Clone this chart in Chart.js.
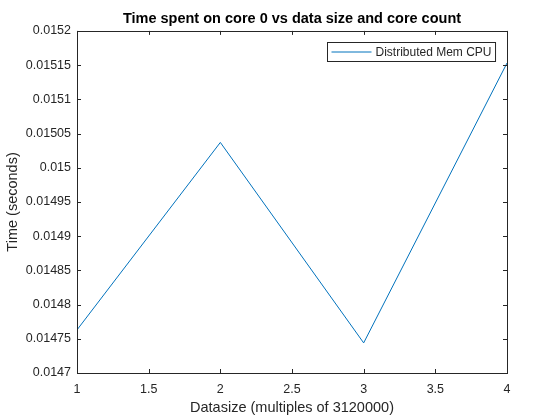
<!DOCTYPE html>
<html>
<head>
<meta charset="utf-8">
<script src="https://cdn.jsdelivr.net/npm/chart.js@4.4.0/dist/chart.umd.min.js"></script>
<style>
  body { margin: 0; background: #fff; }
  #wrap { width: 560px; height: 420px; }
</style>
</head>
<body>
<div id="wrap"><canvas id="coreChart" width="560" height="420"></canvas></div>
<script>
// values
const dataSizes = [1, 2, 3, 4];
const coreTimes = [0.014763, 0.015037, 0.014744, 0.015153];
const seriesLabel = 'Distributed Mem CPU';

const axisColor = '#262626';
const lineColor = '#0072BD';
const fontFamily = 'Arial, "Liberation Sans", Helvetica, sans-serif';

function fmt(v) {
    return Number(v.toFixed(6)).toString();
}

// MATLAB style box with inward ticks, plus a boxed legend
const matlabBox = {
    id: 'matlabBox',
    afterLayout(chart) {
        // centre the title over the plot area, not the canvas
        chart.titleBlock.left = chart.chartArea.left;
        chart.titleBlock.right = chart.chartArea.right;
    },
    afterDraw(chart) {
        const { ctx, chartArea: a } = chart;
        const xs = chart.scales.x, ys = chart.scales.y;
        const len = 4;
        ctx.save();
        ctx.strokeStyle = axisColor;
        ctx.lineWidth = 1;
        ctx.beginPath();
        xs.ticks.forEach(t => {
            const px = Math.round(xs.getPixelForValue(t.value)) + 0.5;
            ctx.moveTo(px, a.bottom); ctx.lineTo(px, a.bottom - len);
            ctx.moveTo(px, a.top); ctx.lineTo(px, a.top + len);
        });
        ys.ticks.forEach(t => {
            const py = Math.round(ys.getPixelForValue(t.value)) + 0.5;
            ctx.moveTo(a.left, py); ctx.lineTo(a.left + len, py);
            ctx.moveTo(a.right, py); ctx.lineTo(a.right - len, py);
        });
        ctx.stroke();
        ctx.strokeRect(Math.round(a.left) + 0.5, Math.round(a.top) + 0.5,
            Math.round(a.right - a.left), Math.round(a.bottom - a.top));

        // legend
        const ds = chart.data.datasets[0];
        ctx.font = '12px ' + fontFamily;
        const tw = ctx.measureText(ds.label).width;
        const boxW = tw + 52, boxH = 19;
        const bx = Math.round(a.right - 12 - boxW) + 0.5;
        const by = Math.round(a.top + 11) + 0.5;
        ctx.fillStyle = '#fff';
        ctx.fillRect(bx, by, boxW, boxH);
        ctx.strokeStyle = axisColor;
        ctx.strokeRect(bx, by, boxW, boxH);
        ctx.strokeStyle = ds.borderColor;
        ctx.beginPath();
        ctx.moveTo(bx + 4, by + boxH / 2);
        ctx.lineTo(bx + 44, by + boxH / 2);
        ctx.stroke();
        ctx.fillStyle = axisColor;
        ctx.textBaseline = 'middle';
        ctx.textAlign = 'left';
        ctx.fillText(ds.label, bx + 48, by + boxH / 2 + 0.5);
        ctx.restore();
    }
};

new Chart(document.getElementById('coreChart'), {
    type: 'line',
    data: {
        datasets: [{
            label: seriesLabel,
            data: dataSizes.map((x, i) => ({ x: x, y: coreTimes[i] })),
            borderColor: lineColor,
            borderWidth: 1,
            pointRadius: 0,
            tension: 0,
            fill: false
        }]
    },
    options: {
        responsive: false,
        animation: false,
        devicePixelRatio: 1,
        layout: { padding: { left: 0, right: 53, top: 0, bottom: 0 } },
        plugins: {
            legend: { display: false },
            tooltip: { enabled: false },
            title: {
                display: true,
                text: 'Time spent on core 0 vs data size and core count',
                color: '#000',
                font: { family: fontFamily, size: 14.5, weight: 'bold' },
                padding: { top: 10.5, bottom: 3 }
            }
        },
        scales: {
            x: {
                type: 'linear',
                min: 1,
                max: 4,
                afterFit: s => { s.height = 47; },
                grid: { display: false, drawTicks: false },
                border: { display: false },
                ticks: {
                    stepSize: 0.5,
                    color: axisColor,
                    padding: 9,
                    maxRotation: 0,
                    font: { family: fontFamily, size: 12.5 },
                    callback: v => fmt(v)
                },
                title: {
                    display: true,
                    text: 'Datasize (multiples of 3120000)',
                    color: axisColor,
                    font: { family: fontFamily, size: 14.5 },
                    padding: { top: 0, bottom: 3.3 }
                }
            },
            y: {
                type: 'linear',
                min: 0.0147,
                max: 0.0152,
                afterFit: s => { s.width = 77; },
                grid: { display: false, drawTicks: false },
                border: { display: false },
                ticks: {
                    stepSize: 0.00005,
                    color: axisColor,
                    padding: 6,
                    font: { family: fontFamily, size: 12.5 },
                    callback: v => fmt(v)
                },
                title: {
                    display: true,
                    text: 'Time (seconds)',
                    color: axisColor,
                    font: { family: fontFamily, size: 14.5 },
                    padding: { top: 4, bottom: 0 }
                }
            }
        }
    },
    plugins: [matlabBox]
});
</script>
</body>
</html>
